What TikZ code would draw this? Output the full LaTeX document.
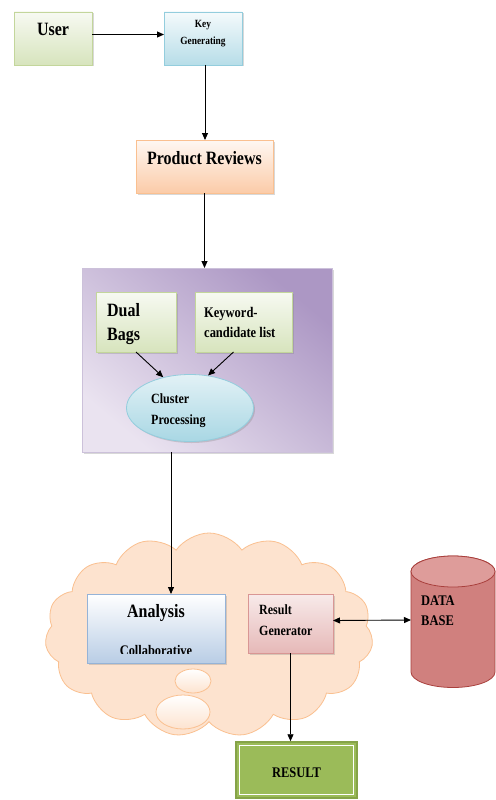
\documentclass[tikz,border=0pt]{standalone}
\usepackage{fontspec}
\setmainfont{Liberation Serif}[FakeStretch=0.85]
\usetikzlibrary{positioning, arrows.meta, shapes.geometric, shapes.symbols, shadows}

\definecolor{greenline}{HTML}{C3D69B}
\definecolor{greenfill}{HTML}{D7E4BD}
\definecolor{blueline}{HTML}{93CDDD}
\definecolor{bluefill}{HTML}{B7DDE8}
\definecolor{orangeline}{HTML}{FAC090}
\definecolor{orangefill}{HTML}{FBCBA8}
\definecolor{purpleline}{HTML}{CCC1DA}
\definecolor{purpledark}{HTML}{AC97C4}
\definecolor{purplelight}{HTML}{EAE3F0}
\definecolor{cloudfill}{HTML}{FDE3CF}
\definecolor{anaPline}{HTML}{95B3D7}
\definecolor{anafill}{HTML}{B9CDE5}
\definecolor{pinkline}{HTML}{D99694}
\definecolor{pinkfill}{HTML}{E6B9B8}
\definecolor{dbline}{HTML}{A9403D}
\definecolor{dbmid}{HTML}{BB4744}
\definecolor{dbedge}{HTML}{D0807E}
\definecolor{dbtop}{HTML}{DE9C9A}
\definecolor{resfill}{HTML}{9BBB59}
\definecolor{resline}{HTML}{77933C}

\begin{document}
\begin{tikzpicture}[x=1pt, y=-1pt,
  font=\bfseries,
  box/.style={rectangle, inner sep=0pt, outer sep=0pt, line width=0.8pt,
    drop shadow={shadow xshift=1.5pt, shadow yshift=-1.5pt, opacity=.3}},
  greenbox/.style={box, draw=greenline, top color=white!80!greenfill, bottom color=greenfill},
  bluebox/.style={box, draw=blueline, top color=white!85!bluefill, bottom color=bluefill},
  orangebox/.style={box, draw=orangeline, top color=white!85!orangefill, bottom color=orangefill},
  anabox/.style={box, draw=anaPline, top color=white, bottom color=anafill},
  pinkbox/.style={box, draw=pinkline, top color=white!70!pinkfill, bottom color=pinkfill},
  fs/.style 2 args={font=\bfseries\fontsize{#1}{#2}\selectfont, inner sep=0pt},
  flow/.style={-{Triangle[length=7pt,width=6pt]}, line width=0.9pt},
  both/.style={{Triangle[length=7pt,width=6pt]}-{Triangle[length=7pt,width=6pt]}, line width=0.9pt}
]
\path[use as bounding box, fill=white] (0,0) rectangle (495,800);

% top row
\node[greenbox, minimum width=78pt, minimum height=53pt] (user) at (53,38.5) {};
\node[bluebox, minimum width=78pt, minimum height=53pt] (key) at (203,38.5) {};
\node[fs={18.8}{22}] (usertxt) at (53,29) {User};
\node[fs={11}{17}, align=center] (keytxt) at (203,34) {Key\\Generating};

\node[orangebox, minimum width=137pt, minimum height=53pt] (pr) at (204.5,166.5) {};
\node[fs={18.8}{22}] (prtxt) at (204.5,158) {Product Reviews};

% processing block
\node[box, draw=purpleline, top color=purpledark, bottom color=purplelight, shading angle=-40,
  minimum width=250pt, minimum height=184pt] (proc) at (207,360) {};
\node[greenbox, minimum width=80pt, minimum height=60pt] (dual) at (136,322) {};
\node[greenbox, minimum width=97pt, minimum height=60pt] (kw) at (243.5,322) {};
\node[ellipse, draw=blueline, line width=0.8pt, top color=white!60!bluefill, bottom color=blueline!80,
  minimum width=127pt, minimum height=67pt, inner sep=0pt,
  drop shadow={shadow xshift=1.5pt, shadow yshift=-1.5pt, opacity=.3}] (clu) at (190,408) {};
\node[fs={18.8}{24}, align=left, anchor=west] (dualtxt) at (107,324) {Dual\\Bags};
\node[fs={14.7}{20}, align=left, anchor=west] (kwtxt) at (204,322) {Keyword-\\candidate list};
\node[fs={14.1}{21}, align=left, anchor=west] (clutxt) at (151,410.5) {Cluster\\Processing};

% cloud
\node[cloud, cloud puffs=15, cloud puff arc=110, aspect=1.6, draw=orangeline, fill=cloudfill,
  line width=0.8pt, minimum width=328pt, minimum height=204pt, inner sep=0pt] (cloud) at (209,635) {};
\draw[orangeline, line width=0.8pt, top color=white, bottom color=cloudfill]
  (193,681) ellipse [x radius=18, y radius=12];
\draw[orangeline, line width=0.8pt, top color=white, bottom color=cloudfill]
  (183,712) ellipse [x radius=27, y radius=17];

\node[anabox, minimum width=138pt, minimum height=69pt] (ana) at (156,628.5) {};
\node[pinkbox, minimum width=85pt, minimum height=59pt] (rg) at (290.5,623.5) {};
\node[fs={18.8}{22}] (anatxt) at (156,613) {Analysis};
\begin{scope}
  \clip (87,594) rectangle (225,653.5);
  \node[fs={14.6}{17}] (coltxt) at (156,650) {Collaborative};
\end{scope}
\node[fs={14.1}{21}, align=left, anchor=west] (rgtxt) at (259,620.5) {Result\\Generator};

% database
\shade[top color=dbedge, middle color=dbmid, bottom color=dbedge, draw=dbline, line width=0.8pt]
  (411,571.5) -- (411,672) arc[start angle=180, end angle=0, x radius=42, y radius=15.5]
  -- (495,571.5) arc[start angle=0, end angle=-180, x radius=42, y radius=15.5] -- cycle;
\fill[dbtop, draw=dbline, line width=0.8pt] (453,571.5) ellipse [x radius=42, y radius=15.5];
\coordinate (dbw) at (411,620);
\node[fs={14.7}{20}, align=left, anchor=west] (dbtxt) at (421,611) {DATA\\BASE};

% result
\node[rectangle, fill=resfill, draw=resline!60!resfill, line width=1.5pt, inner sep=0pt,
  minimum width=121pt, minimum height=56pt] (res) at (296.5,770) {};
\draw[white, line width=1.2pt] ([xshift=4pt,yshift=-4pt]res.north west) rectangle ([xshift=-4pt,yshift=4pt]res.south east);
\node[fs={14.7}{17}] (restxt) at (296.5,773) {RESULT};

% connectors
\draw[flow] ([yshift=4pt]user.east) -- ([yshift=4pt]key.west);
\draw[flow] ([xshift=2pt]key.south) -- ([xshift=2pt]key.south |- pr.north);
\draw[flow] (pr.south) -- (pr.south |- proc.north);
\draw[flow] (dual.south) -- (clu.131);
\draw[flow] ([xshift=-10pt]kw.south) -- (clu.61);
\draw[flow] ([xshift=-36pt]proc.south) -- ([xshift=-36pt]proc.south |- ana.north);
\draw[both] ([yshift=3pt]rg.east) -- (dbw);
\draw[flow] (rg.south) -- (rg.south |- res.north);

\end{tikzpicture}
\end{document}
